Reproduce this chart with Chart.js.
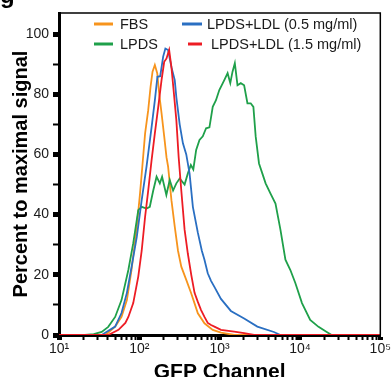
<!DOCTYPE html>
<html>
<head>
<meta charset="utf-8">
<script src="https://cdn.jsdelivr.net/npm/chart.js@4/dist/chart.umd.min.js"></script>
<style>
  html, body { margin: 0; padding: 0; background: #fff; overflow: hidden; }
  canvas { display: block; }
</style>
</head>
<body>
<canvas id="chart" width="392" height="385"></canvas>
<script>
// GFP histograms (x = GFP intensity, y = % of max)
const seriesLabels = ["FBS", "LPDS", "LPDS+LDL (0.5 mg/ml)", "LPDS+LDL (1.5 mg/ml)"];

const fbsX = [10, 38, 50, 60, 70, 80, 93, 102, 109, 118, 129, 138, 146, 156, 167, 177, 189, 204, 218, 228, 251, 276, 303, 333, 384, 443, 487, 535, 647, 820, 1038, 1517, 100000];
const fbsY = [0, 0, 2.8, 6, 11.6, 21.6, 36, 47, 56, 67, 74.7, 82.5, 87.5, 89.7, 87, 80, 73.7, 66, 59, 56, 44.8, 36, 28, 22.7, 18.3, 13.8, 10.5, 7.2, 3.9, 1.7, 0.8, 0, 0];

const lpdsX = [10, 21, 27, 34, 41, 50, 60, 73, 84, 97, 107, 123, 135, 149, 164, 180, 192, 217, 239, 263, 289, 318, 366, 402, 438, 470, 510, 561, 617, 678, 746, 820, 900, 990, 1142, 1256, 1356, 1446, 1545, 1667, 1832, 2017, 2218, 2435, 2630, 2808, 3090, 3396, 3733, 4299, 4955, 5709, 6586, 7590, 8750, 10590, 13400, 17020, 21530, 24830, 100000];
const lpdsY = [0, 0, 0.3, 1, 2.7, 6, 11.6, 21.6, 30.5, 41.5, 42.6, 42, 42.6, 48, 52.6, 50.4, 52.6, 46.5, 51.5, 48, 50.4, 52, 50, 53.7, 56.5, 55, 61.5, 64.8, 66, 68.7, 69, 75.8, 78, 81.4, 84.7, 87, 83.7, 87.5, 90.3, 83, 83.7, 83, 77, 77, 75.8, 66, 57, 53.7, 50.4, 47, 43.7, 35, 25, 21.6, 17.3, 10.6, 5, 2.7, 1, 0, 0];

const ldl05X = [10, 34, 50, 60, 70, 80, 93, 107, 123, 142, 156, 168, 182, 198, 211, 228, 251, 276, 289, 318, 349, 384, 422, 464, 535, 600, 647, 711, 781, 860, 1038, 1379, 2017, 2946, 4732, 5709, 100000];
const ldl05Y = [0, 0, 2.8, 7.3, 14, 22.6, 32.6, 44.8, 56, 69, 78, 85.8, 86, 92.5, 95.2, 94.7, 89, 84.7, 79, 70, 63.7, 60, 53.7, 42.6, 34, 28, 25, 20.5, 18, 16, 12, 8, 5.5, 2.8, 1, 0, 0];

const ldl15X = [10, 41, 55, 67, 73, 84, 97, 107, 118, 129, 142, 156, 172, 189, 204, 218, 235, 251, 270, 289, 309, 333, 366, 402, 443, 487, 535, 587, 647, 711, 781, 860, 1038, 1517, 2017, 2681, 100000];
const ldl15Y = [0, 0, 1.7, 4, 6, 10.6, 19.4, 28, 39.3, 48, 58, 67, 75.8, 84.7, 90.8, 91.9, 94.7, 89, 80, 71.4, 59, 48, 35, 27, 20, 14, 11, 8.3, 6, 4, 3.3, 2.8, 1.7, 1.1, 0.6, 0, 0];

const yTickLabels = [0, 20, 40, 60, 80, 100];
const xDecades = [10, 100, 1000, 10000, 100000];

const colors = ["#f7941d", "#1fa04a", "#2a6fc2", "#ed1c24"];
const sup = { "1": "\u00b9", "2": "\u00b2", "3": "\u00b3", "4": "\u2074", "5": "\u2075" };
const FONT = "'Liberation Sans', Arial, Helvetica, sans-serif";

function points(xs, ys) {
	return xs.map((x, i) => ({ x: x, y: ys[i] }));
}

// legend drawn as two columns inside the plot, like the figure
const legendSpots = [
	{ x: 94, y: 24, w: 19, tx: 120 },
	{ x: 94, y: 44, w: 19, tx: 120 },
	{ x: 182, y: 24, w: 20, tx: 207 },
	{ x: 188, y: 44, w: 14, tx: 211 },
];

const framePlugin = {
	id: "frame",
	afterDraw(chart) {
		const c = chart.ctx;
		const a = chart.chartArea;
		c.save();
		// thin top and right edges of the box
		c.strokeStyle = "#000";
		c.lineWidth = 1.5;
		c.beginPath();
		c.moveTo(a.left, a.top);
		c.lineTo(a.right, a.top);
		c.lineTo(a.right, a.bottom);
		c.stroke();

		// legend
		c.font = "14.5px " + FONT;
		c.textBaseline = "middle";
		c.fillStyle = "#1a1a1a";
		chart.data.datasets.forEach((ds, i) => {
			const s = legendSpots[i];
			c.strokeStyle = ds.borderColor;
			c.lineWidth = 3;
			c.beginPath();
			c.moveTo(s.x, s.y);
			c.lineTo(s.x + s.w, s.y);
			c.stroke();
			c.fillText(ds.label, s.tx, s.y + 0.5);
		});

		// panel letter, cut by the top edge
		c.font = "bold 24px " + FONT;
		c.textBaseline = "alphabetic";
		c.fillStyle = "#000";
		c.fillText("g", 0, 3);
		c.restore();
	},
};

const datasets = [
	{ label: seriesLabels[0], data: points(fbsX, fbsY), borderColor: colors[0], order: 3 },
	{ label: seriesLabels[1], data: points(lpdsX, lpdsY), borderColor: colors[1], order: 2 },
	{ label: seriesLabels[2], data: points(ldl05X, ldl05Y), borderColor: colors[2], order: 1 },
	{ label: seriesLabels[3], data: points(ldl15X, ldl15Y), borderColor: colors[3], order: 0 },
].map((d) => ({ ...d, borderWidth: 1.8, pointRadius: 0, tension: 0, fill: false }));

new Chart(document.getElementById("chart"), {
	type: "line",
	data: { datasets: datasets },
	plugins: [framePlugin],
	options: {
		responsive: false,
		animation: false,
		events: [],
		layout: { padding: { top: 13, right: 7, left: 0, bottom: 0 } },
		plugins: { legend: { display: false }, tooltip: { enabled: false } },
		scales: {
			x: {
				type: "logarithmic",
				min: 10,
				max: 100000,
				afterBuildTicks(scale) {
					const t = [];
					xDecades.forEach((d, k) => {
						if (k === xDecades.length - 1) {
							t.push({ value: d, major: true });
							return;
						}
						for (let m = 1; m <= 9; m++) t.push({ value: m * d, major: m === 1 });
					});
					scale.ticks = t;
				},
				afterFit(scale) {
					scale.height = 50;
				},
				ticks: {
					autoSkip: false,
					maxRotation: 0,
					padding: 1,
					color: "#1a1a1a",
					font: { family: FONT, size: 14 },
					callback(v) {
						const e = Math.log10(v);
						if (Math.abs(e - Math.round(e)) > 1e-9) return "";
						return "10" + sup[String(Math.round(e))];
					},
				},
				grid: {
					drawOnChartArea: false,
					tickLength: 5,
					tickColor: "#000",
					tickWidth: (ctx) => {
						const e = Math.log10(ctx.tick.value);
						return Math.abs(e - Math.round(e)) < 1e-9 ? 5 : 2;
					},
				},
				border: { color: "#000", width: 3 },
				title: {
					display: true,
					text: "GFP Channel",
					color: "#000",
					padding: { top: 0, bottom: 0 },
					font: { family: FONT, size: 21, weight: "bold" },
				},
			},
			y: {
				min: 0,
				max: 107,
				afterBuildTicks(scale) {
					scale.ticks = scale.ticks.filter((t) => t.value <= 100);
				},
				afterFit(scale) {
					scale.width = 59;
				},
				ticks: {
					stepSize: 5,
					padding: 4,
					color: "#1a1a1a",
					font: { family: FONT, size: 14 },
					callback: (v) => (yTickLabels.includes(v) ? String(v) : ""),
				},
				grid: {
					drawOnChartArea: false,
					tickLength: 6,
					tickColor: "#000",
					tickWidth: (ctx) => (yTickLabels.includes(ctx.tick.value) ? 5 : 2),
				},
				border: { color: "#000", width: 3 },
				title: {
					display: true,
					text: "Percent to maximal signal",
					color: "#000",
					padding: { top: 9.5, bottom: 0 },
					font: { family: FONT, size: 20, weight: "bold" },
				},
			},
		},
	},
});
</script>
</body>
</html>
